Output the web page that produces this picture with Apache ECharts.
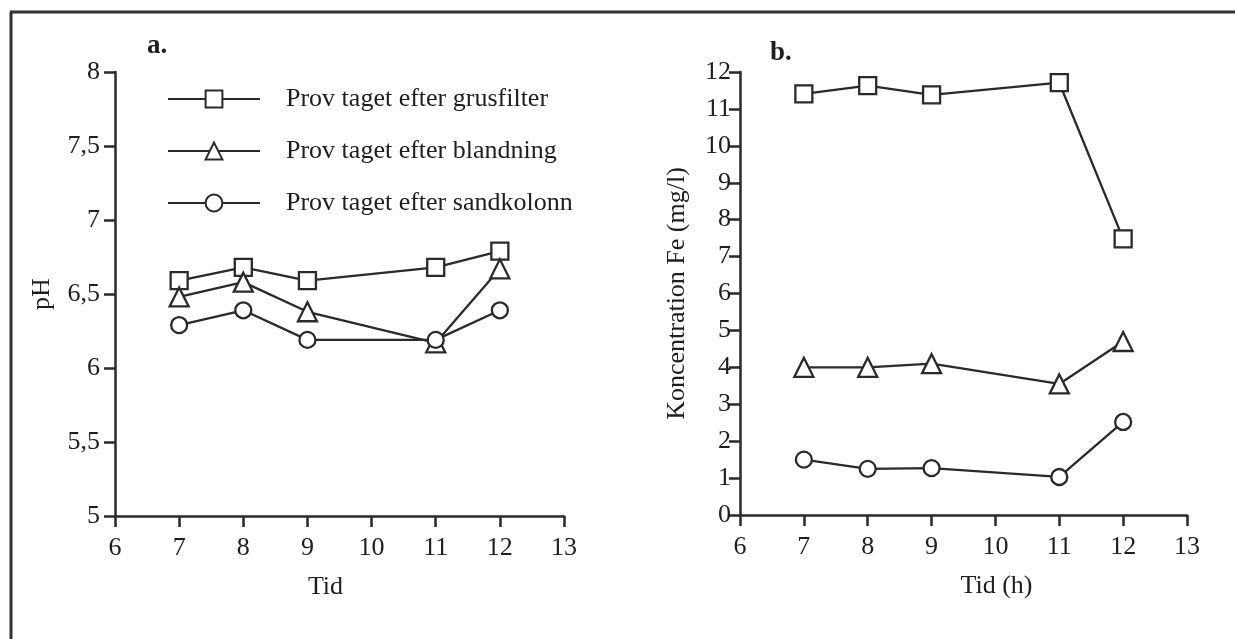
<!DOCTYPE html>
<html>
<head>
<meta charset="utf-8">
<script src="https://cdn.jsdelivr.net/npm/echarts@6/dist/echarts.min.js"></script>
<style>
html,body{margin:0;padding:0;background:#fff;}
#chart{width:1235px;height:639px;}
</style>
</head>
<body>
<div id="chart"></div>
<script>
// ---- data ----
var times = [7, 8, 9, 11, 12];
var seriesNames = ['Prov taget efter grusfilter', 'Prov taget efter blandning', 'Prov taget efter sandkolonn'];
var phGrus = [6.59, 6.68, 6.59, 6.68, 6.79];
var phBland = [6.48, 6.58, 6.38, 6.17, 6.67];
var phSand = [6.29, 6.39, 6.19, 6.19, 6.39];
var feGrus = [11.41, 11.63, 11.38, 11.71, 7.48];
var feBland = [4.0, 4.0, 4.1, 3.55, 4.7];
var feSand = [1.5, 1.25, 1.27, 1.03, 2.52];
var panelLabels = ['a.', 'b.'];
var yNameLeft = 'pH';
var yNameRight = 'Koncentration Fe (mg/l)';
var xNameLeft = 'Tid';
var xNameRight = 'Tid (h)';

function pairs(ys) { return times.map(function (t, i) { return [t, ys[i]]; }); }

var FONT = 'Liberation Serif';
var INK = '#2a2a2a';
var TXT = '#1e1e1e';
var symbols = ['rect', 'triangle', 'circle'];
var symSizes = [17, 19, 16];

function mkSeries(name, ys, idx, axisIdx) {
  return {
    type: 'line',
    name: name,
    xAxisIndex: axisIdx,
    yAxisIndex: axisIdx,
    data: pairs(ys),
    symbol: symbols[idx],
    symbolSize: symSizes[idx],
    showAllSymbol: true,
    lineStyle: { color: INK, width: 2.3 },
    itemStyle: { color: '#ffffff', borderColor: INK, borderWidth: 2.3, opacity: 1 },
    emphasis: { disabled: true },
    animation: false,
    z: 3
  };
}

function xAxis(gridIdx, name, pad) {
  return {
    type: 'value', gridIndex: gridIdx, min: 6, max: 13, interval: 1,
    name: name, nameLocation: 'middle', nameGap: gridIdx === 0 ? 58 : 58,
    nameTextStyle: { fontFamily: FONT, fontSize: 26, color: TXT, padding: pad },
    axisLine: { show: true, onZero: false, lineStyle: { color: INK, width: 2.5 } },
    axisTick: { show: true, length: 11, inside: false, lineStyle: { color: INK, width: 2.5 } },
    axisLabel: { fontFamily: FONT, fontSize: 26, color: TXT, margin: 19 },
    splitLine: { show: false }
  };
}

function yAxis(gridIdx, name, min, max, interval, gap, margin, fmt) {
  return {
    type: 'value', gridIndex: gridIdx, min: min, max: max, interval: interval,
    name: name, nameLocation: 'middle', nameGap: gap,
    nameTextStyle: { fontFamily: FONT, fontSize: 26, color: TXT },
    axisLine: { show: true, onZero: false, lineStyle: { color: INK, width: 2.5 } },
    axisTick: { show: true, length: 11, inside: false, lineStyle: { color: INK, width: 2.5 } },
    axisLabel: { fontFamily: FONT, fontSize: 26, color: TXT, margin: margin, formatter: fmt },
    splitLine: { show: false }
  };
}

var chart = echarts.init(document.getElementById('chart'), null, { renderer: 'canvas' });
chart.setOption({
  backgroundColor: '#ffffff',
  animation: false,
  title: [
    { text: panelLabels[0], left: 142, top: 28, textStyle: { fontFamily: FONT, fontSize: 27, fontWeight: 'bold', color: TXT } },
    { text: panelLabels[1], left: 765, top: 35, textStyle: { fontFamily: FONT, fontSize: 27, fontWeight: 'bold', color: TXT } }
  ],
  legend: {
    data: seriesNames,
    orient: 'vertical',
    left: 167, top: 86, padding: 0,
    itemWidth: 92, itemHeight: 21, itemGap: 26,
    selectedMode: false,
    textStyle: { fontFamily: FONT, fontSize: 26, color: TXT, padding: [0, 0, 0, 21] }
  },
  grid: [
    { left: 115, top: 72, width: 449, height: 444, containLabel: false },
    { left: 740, top: 72, width: 447, height: 443, containLabel: false }
  ],
  xAxis: [xAxis(0, xNameLeft, [0, 28, 0, 0]), xAxis(1, xNameRight, [0, 0, 0, 66])],
  yAxis: [
    yAxis(0, yNameLeft, 5, 8, 0.5, 60, 15, function (v) { return String(v).replace('.', ','); }),
    yAxis(1, yNameRight, 0, 12, 1, 50, 9, function (v) { return String(v); })
  ],
  graphic: [
    { type: 'line', shape: { x1: 11, y1: 12, x2: 11, y2: 639 }, style: { stroke: '#333', lineWidth: 3 } },
    { type: 'line', shape: { x1: 10, y1: 12, x2: 1235, y2: 12 }, style: { stroke: '#333', lineWidth: 3 } }
  ],
  series: [
    mkSeries(seriesNames[0], phGrus, 0, 0),
    mkSeries(seriesNames[1], phBland, 1, 0),
    mkSeries(seriesNames[2], phSand, 2, 0),
    mkSeries(seriesNames[0], feGrus, 0, 1),
    mkSeries(seriesNames[1], feBland, 1, 1),
    mkSeries(seriesNames[2], feSand, 2, 1)
  ]
});
</script>
</body>
</html>
